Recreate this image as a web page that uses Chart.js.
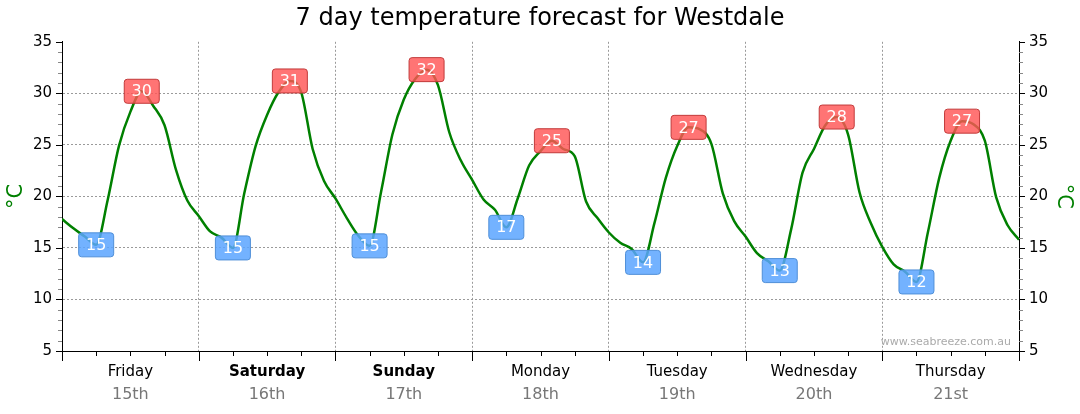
<!DOCTYPE html>
<html>
<head>
    <meta charset="UTF-8">
    <title>7 day temperature forecast for Westdale</title>
    <script src="https://cdn.jsdelivr.net/npm/chart.js"></script>
    <style>
        html, body { margin: 0; padding: 0; background: #fff; }
        #wrap { width: 1080px; height: 414px; }
    </style>
</head>
<body>
    <div id="wrap"><canvas id="forecast"></canvas></div>

    <script>
        // forecast, one reading every 2 hours from Friday 00:00 to Thursday 24:00
        const stepHours = 2;
        const temps = [
            17.8, 16.9, 16.1, 15.3, 19.6, 24.9, 28.2, 30.2, 28.8, 26.9, 22.6, 19.6,
            18.1, 16.6, 16.0, 15.0, 20.3, 24.9, 27.9, 30.1, 31.2, 30.1, 24.6, 21.5,
            19.8, 17.9, 16.2, 15.2, 20.4, 26.0, 29.4, 31.4, 32.3, 30.8, 26.2, 23.5,
            21.6, 19.7, 18.7, 17.0, 19.8, 23.0, 24.4, 25.4, 24.6, 23.9, 19.5, 17.9,
            16.5, 15.5, 14.9, 13.6, 17.4, 21.8, 24.9, 26.7, 26.5, 25.1, 20.3, 17.6,
            16.1, 14.5, 13.7, 12.8, 16.8, 22.3, 24.6, 26.9, 27.7, 26.0, 20.4, 17.4,
            15.1, 13.4, 12.7, 11.7, 16.5, 21.8, 25.4, 27.3, 27.0, 25.4, 19.9, 17.2, 15.8
        ];
        const days = ['Friday', 'Saturday', 'Sunday', 'Monday', 'Tuesday', 'Wednesday', 'Thursday'];
        const dates = ['15th', '16th', '17th', '18th', '19th', '20th', '21st'];
        const weekend = [false, true, true, false, false, false, false];
        const maxLabels = [30, 31, 32, 25, 27, 28, 27];
        const minLabels = [15, 15, 15, 17, 14, 13, 12];
        const yTicks = [5, 10, 15, 20, 25, 30, 35];

        const FONT = "'DejaVu Sans', Verdana, sans-serif";
        const perDay = 24 / stepHours;
        const points = temps.map((t, i) => ({ x: i * stepHours, y: t }));
        const dayMid = days.map((d, i) => i * 24 + 12);

        // index of the lowest / highest reading for a given day
        function extremeIndex(day, lo, hi, wantMax) {
            let best = day * perDay + lo;
            for (let i = day * perDay + lo; i <= day * perDay + hi; i++) {
                if (wantMax ? temps[i] > temps[best] : temps[i] < temps[best]) best = i;
            }
            return best;
        }

        function roundRect(ctx, x, y, w, h, r) {
            ctx.beginPath();
            ctx.moveTo(x + r, y);
            ctx.lineTo(x + w - r, y);
            ctx.quadraticCurveTo(x + w, y, x + w, y + r);
            ctx.lineTo(x + w, y + h - r);
            ctx.quadraticCurveTo(x + w, y + h, x + w - r, y + h);
            ctx.lineTo(x + r, y + h);
            ctx.quadraticCurveTo(x, y + h, x, y + h - r);
            ctx.lineTo(x, y + r);
            ctx.quadraticCurveTo(x, y, x + r, y);
            ctx.closePath();
        }

        const decor = {
            id: 'decor',
            afterDatasetsDraw(chart) {
                const ctx = chart.ctx;
                const xs = chart.scales.x, ys = chart.scales.y;
                ctx.save();
                ctx.font = '16px ' + FONT;
                ctx.textAlign = 'center';
                ctx.textBaseline = 'middle';
                days.forEach((d, i) => {
                    const boxes = [
                        { idx: extremeIndex(i, 0, 6, false), text: minLabels[i], fill: 'rgba(90,165,255,0.85)', edge: '#4f8fd8' },
                        { idx: extremeIndex(i, 5, 10, true), text: maxLabels[i], fill: 'rgba(255,85,85,0.82)', edge: '#c23a3a' }
                    ];
                    boxes.forEach(b => {
                        const px = xs.getPixelForValue(points[b.idx].x);
                        const py = ys.getPixelForValue(points[b.idx].y);
                        roundRect(ctx, px - 17.5, py - 12, 35, 24, 3);
                        ctx.fillStyle = b.fill;
                        ctx.fill();
                        ctx.lineWidth = 1;
                        ctx.strokeStyle = b.edge;
                        ctx.stroke();
                        ctx.fillStyle = '#fff';
                        ctx.fillText(String(b.text), px, py + 1);
                    });
                });
                ctx.restore();
            },
            afterDraw(chart) {
                const ctx = chart.ctx;
                const a = chart.chartArea;
                const xs = chart.scales.x, ys = chart.scales.y;
                ctx.save();
                ctx.lineWidth = 1;
                // x tick marks: days long, 6 hours short
                ctx.strokeStyle = '#000';
                for (let h = 0; h <= 168; h += 6) {
                    const px = Math.round(xs.getPixelForValue(h)) + 0.5;
                    const len = h % 24 === 0 ? 10 : 5;
                    ctx.beginPath();
                    ctx.moveTo(px, a.bottom);
                    ctx.lineTo(px, a.bottom + len);
                    ctx.stroke();
                }
                // y tick marks on both sides, minor every degree
                for (let v = ys.min; v <= ys.max; v++) {
                    const py = Math.round(ys.getPixelForValue(v)) + 0.5;
                    const major = v % 5 === 0;
                    const len = major ? 6 : 4;
                    ctx.strokeStyle = major ? '#000' : '#888';
                    ctx.beginPath();
                    ctx.moveTo(a.left - len, py);
                    ctx.lineTo(a.left, py);
                    ctx.moveTo(a.right, py);
                    ctx.lineTo(a.right + len, py);
                    ctx.stroke();
                }
                ctx.font = '11px ' + FONT;
                ctx.fillStyle = '#aaa';
                ctx.textAlign = 'right';
                ctx.textBaseline = 'alphabetic';
                ctx.fillText('www.seabreeze.com.au', a.right - 8, a.bottom - 6);
                ctx.restore();
            }
        };

        const yScale = (pos) => ({
            type: 'linear',
            position: pos,
            min: 5,
            max: 35,
            afterBuildTicks: s => { s.ticks = yTicks.map(v => ({ value: v })); },
            afterFit: s => { s.width = pos === 'left' ? 62 : 61; },
            border: { color: '#000', width: 1, dash: [2, 2] },
            grid: {
                drawOnChartArea: pos === 'left',
                drawTicks: false,
                color: c => (c.tick && (c.tick.value === 5 || c.tick.value === 35)) ? 'rgba(0,0,0,0)' : '#9a9a9a'
            },
            ticks: { color: '#000', padding: 10, font: { family: FONT, size: 15 } },
            title: { display: true, text: '°C', color: '#008000', font: { family: FONT, size: 21 }, padding: { top: 4, bottom: 0 } }
        });

        const labelScale = (texts, weight, color, size, height, bold) => ({
            type: 'linear',
            position: 'bottom',
            weight: weight,
            min: 0,
            max: 168,
            afterBuildTicks: s => { s.ticks = dayMid.map(v => ({ value: v })); },
            afterFit: s => { s.height = height; },
            border: { display: false },
            grid: { display: false, drawTicks: false },
            ticks: {
                color: color,
                padding: 0,
                maxRotation: 0,
                autoSkip: false,
                font: c => ({ family: FONT, size: size, weight: bold && weekend[c.index] ? 'bold' : 'normal' }),
                callback: (v, i) => texts[i]
            }
        });

        new Chart(document.getElementById('forecast'), {
            type: 'line',
            data: {
                datasets: [{
                    data: points,
                    borderColor: '#008000',
                    borderWidth: 2.5,
                    pointRadius: 0,
                    tension: 0.35,
                    cubicInterpolationMode: 'monotone',
                    fill: false
                }]
            },
            options: {
                responsive: true,
                maintainAspectRatio: false,
                animation: false,
                layout: { padding: { top: 0, bottom: 5, left: 0, right: 0 } },
                plugins: {
                    legend: { display: false },
                    tooltip: { enabled: false },
                    title: {
                        display: true,
                        text: '7 day temperature forecast for Westdale',
                        color: '#000',
                        font: { family: FONT, size: 24, weight: 'normal' },
                        padding: { top: 4, bottom: 9 }
                    }
                },
                scales: {
                    x: {
                        type: 'linear',
                        position: 'bottom',
                        weight: 0,
                        min: 0,
                        max: 168,
                        afterBuildTicks: s => { s.ticks = days.map((d, i) => ({ value: i * 24 })).concat([{ value: 168 }]); },
                        afterFit: s => { s.height = 12; },
                        border: { color: '#000', width: 1, dash: [2, 2] },
                        grid: {
                            drawTicks: false,
                            color: c => (c.tick && (c.tick.value === 0 || c.tick.value === 168)) ? 'rgba(0,0,0,0)' : '#9a9a9a'
                        },
                        ticks: { display: false }
                    },
                    xDay: labelScale(days, 1, '#000', 15, 22, true),
                    xDate: labelScale(dates, 2, '#777', 16, 24, false),
                    y: yScale('left'),
                    y2: yScale('right')
                }
            },
            plugins: [decor]
        });
    </script>
</body>
</html>
